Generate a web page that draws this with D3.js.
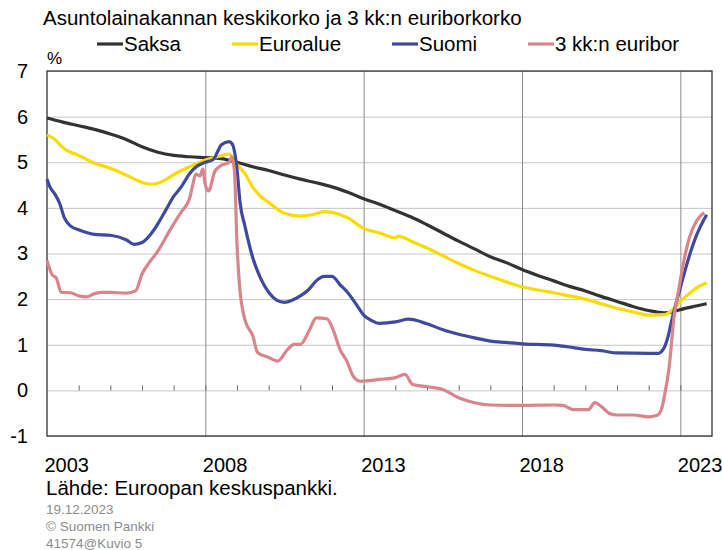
<!DOCTYPE html>
<html>
<head>
<meta charset="utf-8">
<script src="https://cdn.jsdelivr.net/npm/d3@7"></script>
<style>
  body { margin: 0; background: #fff; }
  svg { font-family: "Liberation Sans", Arial, sans-serif; }
</style>
</head>
<body>
<svg id="chart"></svg>
<script>
// Saksa (black)
var sakDates = [2003.0, 2003.5, 2004.0, 2004.5, 2005.0, 2005.5, 2006.0, 2006.5, 2007.0, 2007.5,
  2008.0, 2008.5, 2009.0, 2009.5, 2010.0, 2010.5, 2011.0, 2011.5, 2012.0, 2012.5, 2013.0, 2013.5,
  2014.0, 2014.5, 2015.0, 2015.5, 2016.0, 2016.5, 2017.0, 2017.5, 2018.0, 2018.5, 2019.0, 2019.5,
  2020.0, 2020.5, 2021.0, 2021.5, 2022.0, 2022.5, 2022.75, 2023.0, 2023.5, 2023.83];
var sakVals = [5.97, 5.88, 5.8, 5.72, 5.62, 5.5, 5.34, 5.22, 5.15, 5.12,
  5.1, 5.08, 5.0, 4.9, 4.82, 4.72, 4.63, 4.55, 4.46, 4.34, 4.2, 4.08,
  3.94, 3.8, 3.63, 3.45, 3.27, 3.1, 2.93, 2.8, 2.65, 2.52, 2.4, 2.28,
  2.18, 2.06, 1.95, 1.84, 1.75, 1.7, 1.72, 1.77, 1.85, 1.9];

// Euroalue (yellow)
var euDates = [2003.0, 2003.25, 2003.5, 2003.75, 2004.0, 2004.5, 2005.0, 2005.5, 2006.0, 2006.25,
  2006.5, 2006.75, 2007.0, 2007.5, 2008.0, 2008.5, 2008.75, 2009.0, 2009.25, 2009.5, 2009.75,
  2010.0, 2010.5, 2011.0, 2011.5, 2011.75, 2012.0, 2012.5, 2013.0, 2013.5, 2014.0, 2014.1, 2014.5,
  2015.0, 2015.5, 2016.0, 2016.5, 2017.0, 2017.5, 2018.0, 2018.5, 2019.0, 2019.5, 2020.0, 2020.5,
  2021.0, 2021.5, 2022.0, 2022.5, 2022.75, 2023.0, 2023.25, 2023.5, 2023.83];
var euVals = [5.6, 5.5, 5.32, 5.22, 5.15, 4.98, 4.87, 4.72, 4.56, 4.52,
  4.54, 4.62, 4.73, 4.9, 5.05, 5.14, 5.18, 4.95, 4.75, 4.45, 4.25,
  4.12, 3.88, 3.82, 3.87, 3.92, 3.9, 3.78, 3.55, 3.45, 3.34, 3.38, 3.27,
  3.12, 2.95, 2.78, 2.63, 2.5, 2.38, 2.27, 2.2, 2.14, 2.07, 2.0, 1.9,
  1.8, 1.72, 1.65, 1.66, 1.76, 1.95, 2.1, 2.24, 2.36];

// Suomi (blue)
var fiDates = [2003.0, 2003.1, 2003.25, 2003.4, 2003.55, 2003.75, 2004.0, 2004.5, 2005.0, 2005.5,
  2005.75, 2006.0, 2006.25, 2006.5, 2006.75, 2007.0, 2007.25, 2007.5, 2007.75, 2008.0, 2008.25,
  2008.4, 2008.5, 2008.75, 2008.85, 2009.0, 2009.1, 2009.25, 2009.5, 2009.75, 2010.0, 2010.25,
  2010.5, 2010.75, 2011.0, 2011.25, 2011.5, 2011.75, 2012.0, 2012.25, 2012.5, 2012.75, 2013.0,
  2013.25, 2013.5, 2014.0, 2014.4, 2015.0, 2015.5, 2016.0, 2016.5, 2017.0, 2017.5, 2018.0,
  2019.0, 2019.5, 2020.0, 2020.5, 2021.0, 2022.0, 2022.3, 2022.5, 2022.6, 2022.75, 2023.0,
  2023.25, 2023.5, 2023.83];
var fiVals = [4.63, 4.45, 4.3, 4.1, 3.78, 3.6, 3.52, 3.42, 3.4, 3.3,
  3.2, 3.24, 3.4, 3.65, 3.95, 4.25, 4.47, 4.75, 4.92, 5.0, 5.06,
  5.25, 5.38, 5.45, 5.4, 4.85, 4.1, 3.6, 2.9, 2.45, 2.15, 1.98,
  1.93, 1.98, 2.07, 2.2, 2.4, 2.5, 2.5, 2.32, 2.14, 1.9, 1.65,
  1.53, 1.47, 1.5, 1.56, 1.46, 1.33, 1.23, 1.15, 1.08, 1.05, 1.02,
  0.99, 0.95, 0.9, 0.87, 0.82, 0.81, 0.81, 0.95, 1.15, 1.6, 2.25,
  2.87, 3.38, 3.85];

// 3 kk:n euribor (pink)
var eurDates = [2003.0, 2003.15, 2003.3, 2003.45, 2003.75, 2004.0, 2004.25, 2004.5, 2004.75, 2005.0,
  2005.5, 2005.8, 2006.0, 2006.25, 2006.5, 2006.75, 2007.0, 2007.25, 2007.5, 2007.6, 2007.7,
  2007.83, 2007.92, 2008.0, 2008.1, 2008.3, 2008.5, 2008.75, 2008.83, 2008.92, 2009.0, 2009.08,
  2009.25, 2009.5, 2009.65, 2010.0, 2010.28, 2010.6, 2010.8, 2011.0, 2011.3, 2011.5, 2011.84,
  2012.03, 2012.25, 2012.47, 2012.67, 2012.9, 2013.5, 2014.0, 2014.3, 2014.55, 2015.0, 2015.5,
  2016.0, 2016.5, 2017.0, 2018.0, 2019.0, 2019.3, 2019.6, 2020.1, 2020.3, 2020.5, 2020.75,
  2021.0, 2021.5, 2022.0, 2022.25, 2022.4, 2022.5, 2022.65, 2022.8, 2022.95, 2023.1, 2023.3,
  2023.5, 2023.75];
var eurVals = [2.85, 2.55, 2.45, 2.15, 2.14, 2.07, 2.05, 2.12, 2.15, 2.15,
  2.13, 2.18, 2.55, 2.82, 3.05, 3.35, 3.65, 3.92, 4.2, 4.5, 4.74,
  4.7, 4.85, 4.5, 4.37, 4.8, 4.93, 5.0, 5.12, 4.8, 3.2, 2.3,
  1.55, 1.19, 0.83, 0.72, 0.64, 0.9, 1.01, 1.01, 1.34, 1.59, 1.57,
  1.34, 0.9, 0.64, 0.31, 0.2, 0.24, 0.28, 0.35, 0.13, 0.08, 0.02,
  -0.16, -0.27, -0.32, -0.33, -0.32, -0.33, -0.42, -0.42, -0.27, -0.35, -0.5,
  -0.54, -0.54, -0.58, -0.55, -0.42, -0.12, 0.53, 1.6, 2.21, 2.8, 3.38,
  3.7, 3.9];

var yTicks = [-1, 0, 1, 2, 3, 4, 5, 6, 7];
var xLabelYears = [2003, 2008, 2013, 2018, 2023];
var xGridYears = [2008, 2013, 2018, 2023];
var minorYears = d3.range(2004, 2024);

var series = [
  {name: 'Saksa', dates: sakDates, vals: sakVals, color: '#333333'},
  {name: 'Euroalue', dates: euDates, vals: euVals, color: '#f7dc00'},
  {name: 'Suomi', dates: fiDates, vals: fiVals, color: '#3f4a9f'},
  {name: '3 kk:n euribor', dates: eurDates, vals: eurVals, color: '#da858b'}
];

var W = 722, H = 550;
var pLeft = 47, pRight = 712, pTop = 71, pBottom = 436;

var svg = d3.select('#chart').attr('width', W).attr('height', H);

var x = d3.scaleLinear().domain([2003, 2024]).range([pLeft, pRight]);
var y = d3.scaleLinear().domain([-1, 7]).range([pBottom, pTop]);

// horizontal grid
svg.append('g')
  .attr('transform', 'translate(' + pLeft + ',0)')
  .call(d3.axisLeft(y).tickValues(yTicks).tickSize(-(pRight - pLeft)).tickFormat(''))
  .call(function (g) { g.select('.domain').remove(); })
  .selectAll('line').attr('stroke', '#c6c6c6');

// vertical grid
svg.append('g')
  .attr('transform', 'translate(0,' + pBottom + ')')
  .call(d3.axisBottom(x).tickValues(xGridYears).tickSize(-(pBottom - pTop)).tickFormat(''))
  .call(function (g) { g.select('.domain').remove(); })
  .selectAll('line').attr('stroke', '#8c8c8c');

// small year ticks on the zero line
svg.append('g')
  .attr('transform', 'translate(0,' + y(0) + ')')
  .call(d3.axisTop(x).tickValues(minorYears).tickSize(5).tickFormat(''))
  .call(function (g) { g.select('.domain').remove(); })
  .selectAll('line').attr('stroke', '#666');

// frame
svg.append('rect')
  .attr('x', pLeft).attr('y', pTop)
  .attr('width', pRight - pLeft).attr('height', pBottom - pTop)
  .attr('fill', 'none').attr('stroke', '#333').attr('stroke-width', 1.3);

// y labels (plain hyphen for negatives, as in the original)
var yAxis = svg.append('g')
  .attr('transform', 'translate(' + pLeft + ',0)')
  .call(d3.axisLeft(y).tickValues(yTicks).tickSize(0).tickPadding(19)
    .tickFormat(function (d) { return String(d); }));
yAxis.select('.domain').remove();
yAxis.selectAll('text').attr('font-size', 20).attr('fill', '#000')
  .attr('font-family', '"Liberation Sans", Arial, sans-serif');

// x labels
var xAxis = svg.append('g')
  .attr('transform', 'translate(0,' + pBottom + ')')
  .call(d3.axisBottom(x).tickValues(xLabelYears).tickSize(0).tickPadding(22)
    .tickFormat(function (d) { return String(d); }));
xAxis.select('.domain').remove();
xAxis.selectAll('text').attr('font-size', 20).attr('fill', '#000')
  .attr('text-anchor', 'start').attr('dx', -3)
  .attr('font-family', '"Liberation Sans", Arial, sans-serif');

// lines
var line = d3.line()
  .x(function (d) { return x(d[0]); })
  .y(function (d) { return y(d[1]); })
  .curve(d3.curveMonotoneX);

series.forEach(function (s) {
  svg.append('path')
    .datum(d3.zip(s.dates, s.vals))
    .attr('d', line)
    .attr('fill', 'none')
    .attr('stroke', s.color)
    .attr('stroke-width', 3.2)
    .attr('stroke-linejoin', 'round');
});

// title and legend
svg.append('text').attr('x', 43).attr('y', 25)
  .attr('font-size', 20.5)
  .text('Asuntolainakannan keskikorko ja 3 kk:n euriborkorko');

var legX = [97, 232, 392, 528];
var leg = svg.selectAll('.leg').data(series).enter().append('g')
  .attr('transform', function (d, i) { return 'translate(' + legX[i] + ',0)'; });
leg.append('line')
  .attr('x1', 0).attr('x2', 26).attr('y1', 44).attr('y2', 44)
  .attr('stroke', function (d) { return d.color; }).attr('stroke-width', 3.2);
leg.append('text').attr('x', 27).attr('y', 51)
  .attr('font-size', 20.5)
  .text(function (d) { return d.name; });

svg.append('text').attr('x', 47).attr('y', 64).attr('font-size', 17).text('%');

// source and footnotes
svg.append('text').attr('x', 46).attr('y', 495).attr('font-size', 20.5)
  .text('Lähde: Euroopan keskuspankki.');
var notes = ['19.12.2023', '© Suomen Pankki', '41574@Kuvio 5'];
svg.selectAll('.note').data(notes).enter().append('text')
  .attr('x', 46).attr('y', function (d, i) { return 514 + i * 17; })
  .attr('font-size', 13.5).attr('fill', '#8c8c8c')
  .text(function (d) { return d; });
</script>
</body>
</html>
